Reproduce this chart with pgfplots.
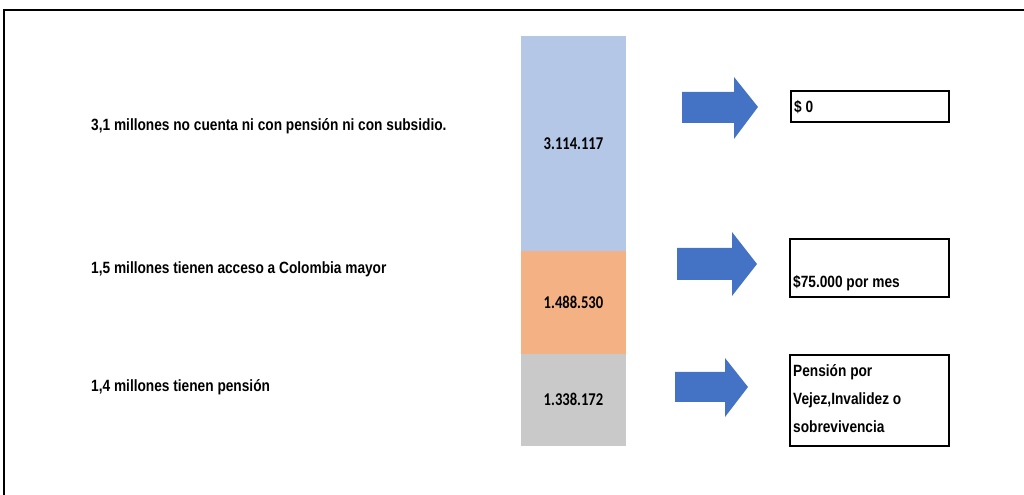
\documentclass[border=0pt]{standalone}
\usepackage{pgfplots}
\pgfplotsset{compat=1.18}
\usepackage{fontspec}
\setmainfont{Liberation Sans}
\newfontfamily\arialn{Liberation Sans}[FakeStretch=0.84]
\newfontfamily\calib{Carlito}[FakeStretch=0.81]
\definecolor{segblue}{HTML}{B4C7E7}
\definecolor{segorange}{HTML}{F4B183}
\definecolor{seggray}{HTML}{C9C9C9}
\definecolor{arrowblue}{HTML}{4472C4}

\begin{document}
\begin{tikzpicture}
\useasboundingbox (0,0) rectangle (1024bp,495bp);
\begin{axis}[
  at={(0,0)}, anchor=south west,
  scale only axis, width=1024bp, height=495bp,
  xmin=0, xmax=1024, ymin=-710000, ymax=6462451,
  hide axis, clip=false,
  ybar stacked, bar width=104.5,
]
\addplot[fill=seggray, draw=none] coordinates {(573.5,1338172)};
\addplot[fill=segorange, draw=none] coordinates {(573.5,1488530)};
\addplot[fill=segblue, draw=none] coordinates {(573.5,3114117)};
\end{axis}

% annotations in pixel coordinates (origin top left)
\begin{scope}[yshift=495bp, x=1bp, y=-1bp,
  lab/.style={anchor=base west, inner sep=0pt,
    font={\arialn\bfseries\fontsize{16.3bp}{28bp}\selectfont}},
  seglab/.style={inner sep=0pt, text=black,
    font={\calib\bfseries\fontsize{18bp}{20bp}\selectfont}}]
  % segment values, centred in their segments
  \node[seglab] at (573.5,399.8) {1.338.172};
  \node[seglab] at (573.5,302.3) {1.488.530};
  \node[seglab] at (573.5,143.5) {3.114.117};
  % frame
  \draw[line width=2bp] (4,495) -- (4,10);
  \draw[line width=2.5bp] (3,10) -- (1024,10);
  % left labels
  \node[lab] at (91,131) {3,1 millones no cuenta ni con pensión ni con subsidio.};
  \node[lab] at (91,274) {1,5 millones tienen acceso a Colombia mayor};
  \node[lab] at (91,392) {1,4 millones tienen pensión};
  % arrows
  \fill[arrowblue] (682,92) -- (734,92) -- (734,77) -- (758,107) -- (734,139) -- (734,123) -- (682,123) -- cycle;
  \fill[arrowblue] (677,248) -- (732,248) -- (732,232) -- (757,264) -- (732,296) -- (732,280) -- (677,280) -- cycle;
  \fill[arrowblue] (675,372) -- (725,372) -- (725,358) -- (748,387) -- (725,417) -- (725,402) -- (675,402) -- cycle;
  % boxes
  \draw[line width=2bp] (791,91) rectangle (949,122);
  \node[lab] at (794,113) {\$ 0};
  \draw[line width=2bp] (790,239) rectangle (949,297);
  \node[lab] at (793,288) {\$75.000 por mes};
  \draw[line width=2bp] (790,355) rectangle (949,446);
  \node[lab] at (793,377) {Pensión por};
  \node[lab] at (793,405) {Vejez,Invalidez o};
  \node[lab] at (793,433) {sobrevivencia};
\end{scope}
\end{tikzpicture}
\end{document}
